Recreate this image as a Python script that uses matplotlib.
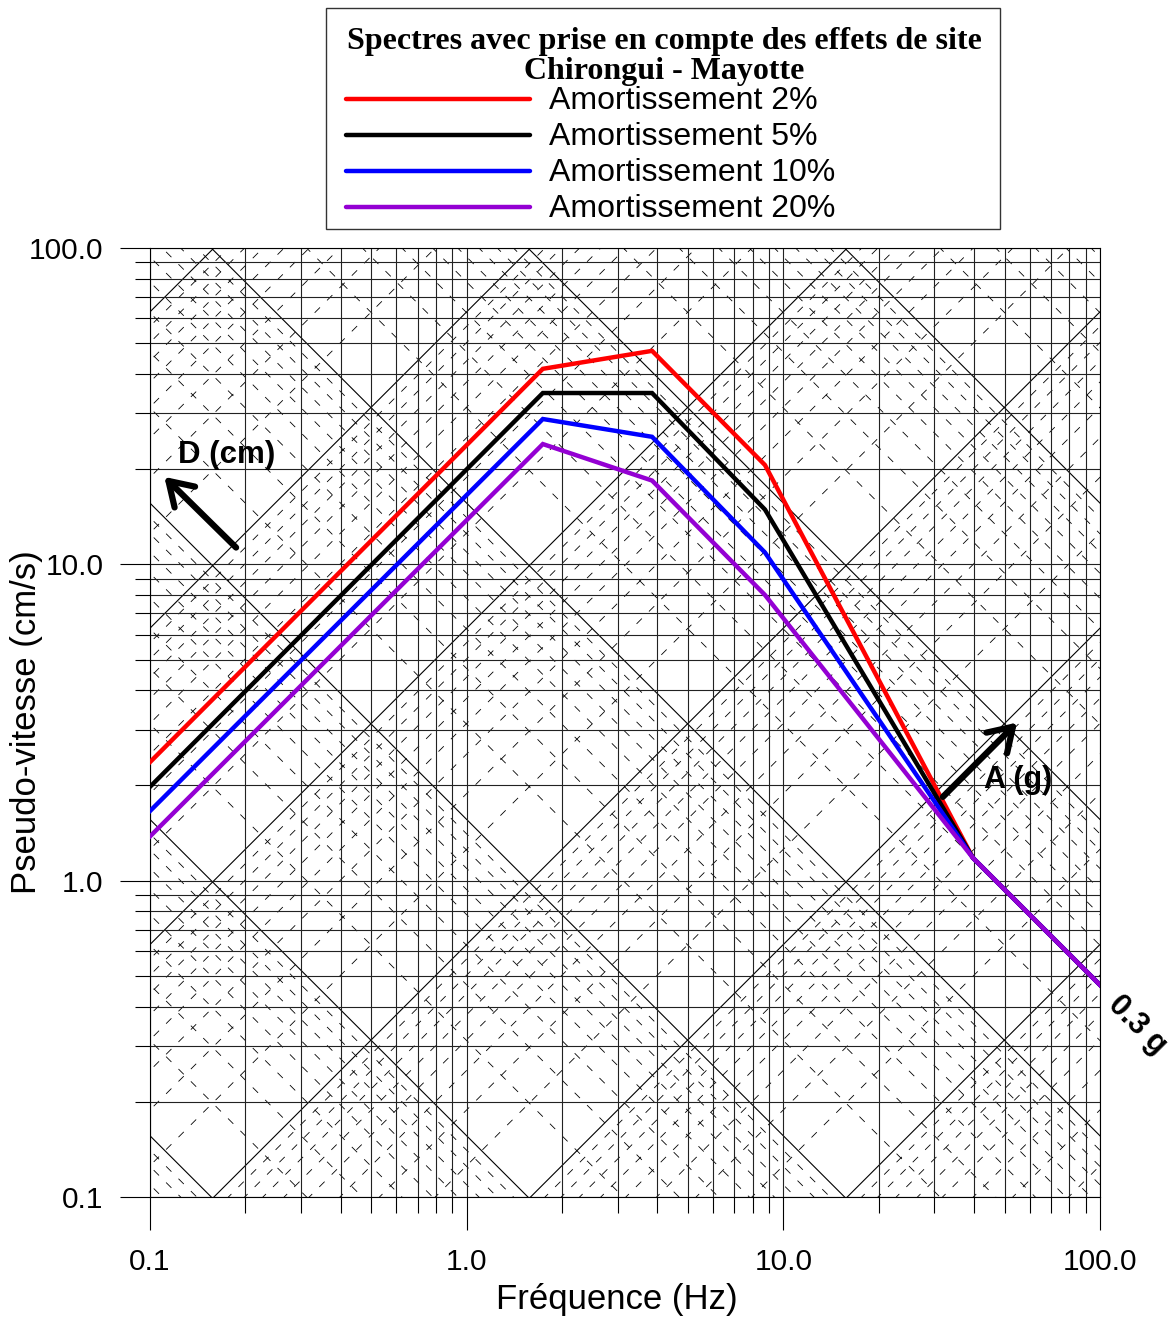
import numpy as np
import matplotlib
matplotlib.use("Agg")
import matplotlib.pyplot as plt
from matplotlib.lines import Line2D
from matplotlib.patches import Rectangle
from matplotlib.ticker import NullFormatter

plt.rcParams['font.family'] = ['Liberation Sans', 'DejaVu Sans']

# spectra (pseudo-velocity, cm/s)
freq = [0.1, 1.74, 3.85, 8.75, 39.7, 100.0]
v_2pc = [2.37, 41.5, 47.3, 20.6, 1.18, 0.468]
v_5pc = [1.98, 34.8, 34.8, 14.9, 1.18, 0.468]
v_10pc = [1.66, 28.8, 25.3, 10.9, 1.18, 0.468]
v_20pc = [1.38, 24.0, 18.4, 8.0, 1.18, 0.468]
series = [v_2pc, v_5pc, v_10pc, v_20pc]
labels = ['Amortissement 2%', 'Amortissement 5%', 'Amortissement 10%', 'Amortissement 20%']
colors = ['#ff0000', '#000000', '#0000ff', '#9400d3']

title_lines = ['Spectres avec prise en compte des effets de site', 'Chirongui - Mayotte']
ticks = [0.1, 1.0, 10.0, 100.0]
tick_labels = ['0.1', '1.0', '10.0', '100.0']

# tripartite grid: D in cm, A in g
d_exps = range(-4, 4)
a_exps = range(-5, 3)
mults = range(1, 10)
g = 981.0

W, H = 1174, 1322
fig = plt.figure(figsize=(W / 100, H / 100), dpi=100)
ax = fig.add_axes([150 / W, (H - 1197) / H, 950 / W, 949 / H])
ax.set_xscale('log')
ax.set_yscale('log')

fg = np.array([0.05, 200.0])
for k in d_exps:
    for m in mults:
        D = m * 10.0 ** k
        v = 2 * np.pi * fg * D
        if m == 1:
            ax.plot(fg, v, color='black', lw=0.8, zorder=1)
        else:
            ln, = ax.plot(fg, v, color='black', lw=0.6, zorder=1)
            ln.set_dashes((9, 12))
for k in a_exps:
    for m in mults:
        A = m * 10.0 ** k
        v = A * g / (2 * np.pi * fg)
        if m == 1:
            ax.plot(fg, v, color='black', lw=0.8, zorder=1)
        else:
            ln, = ax.plot(fg, v, color='black', lw=0.6, zorder=1)
            ln.set_dashes((9, 12))

ax.grid(which='both', color='#222222', lw=0.8, zorder=1)

for vals, c in zip(series, colors):
    ax.plot(freq, vals, color=c, lw=3.2, zorder=3, solid_joinstyle='miter')

ax.set_xlim(0.1, 100)
ax.set_ylim(0.1, 100)
ax.set_xticks(ticks, labels=tick_labels)
ax.set_yticks(ticks, labels=tick_labels)
ax.xaxis.set_minor_formatter(NullFormatter())
ax.yaxis.set_minor_formatter(NullFormatter())
ax.tick_params(axis='x', which='major', length=24, width=0.8, pad=13, labelsize=21.5)
ax.tick_params(axis='x', which='minor', length=11.5, width=0.8)
ax.tick_params(axis='y', which='major', length=21.6, width=0.8, pad=12, labelsize=21.5)
ax.tick_params(axis='y', which='minor', length=10.8, width=0.8)
for s in ax.spines.values():
    s.set_linewidth(0.8)

ax.set_xlabel('Fréquence (Hz)', fontsize=25, va='center')
ax.set_ylabel('Pseudo-vitesse (cm/s)', fontsize=25, va='center')
ax.xaxis.set_label_coords(0.4916, -0.1085)
ax.yaxis.set_label_coords(-0.1295, 0.5)

# direction arrows
ax.annotate('', xy=(0.111, 18.9), xytext=(0.187, 11.3),
            arrowprops=dict(arrowstyle='->,head_length=0.55,head_width=0.35',
                            lw=4.5, color='black', mutation_scale=30, shrinkA=0, shrinkB=0))
ax.text(0.175, 22.2, 'D (cm)', fontsize=22.5, fontweight='bold', ha='center', va='center', zorder=4)
ax.annotate('', xy=(54.7, 3.16), xytext=(31.9, 1.84),
            arrowprops=dict(arrowstyle='->,head_length=0.55,head_width=0.35',
                            lw=4.5, color='black', mutation_scale=30, shrinkA=0, shrinkB=0))
ax.text(55, 2.08, 'A (g)', fontsize=22, fontweight='bold', ha='center', va='center', zorder=4)
ax.text(131, 0.35, '0.3 g', fontsize=22, fontweight='bold', ha='center', va='center',
        rotation=-45, clip_on=False)

# legend box
def fx(px):
    return px / W

def fy(py):
    return 1 - py / H

fig.add_artist(Rectangle((fx(326), fy(229)), fx(1000) - fx(326), fy(8) - fy(229),
                         transform=fig.transFigure, fill=False, edgecolor='#333333', lw=1))
for i, t in enumerate(title_lines):
    fig.text(fx(664), fy(41 + 30 * i), t, fontsize=23, fontweight='bold',
             family='Liberation Serif', ha='center', va='center')
for i, (lab, c) in enumerate(zip(labels, colors)):
    y = fy(99 + 36 * i)
    fig.add_artist(Line2D([fx(346), fx(530)], [y, y], color=c, lw=3.2,
                          transform=fig.transFigure, solid_capstyle='round'))
    fig.text(fx(549), fy(101 + 36 * i), lab, fontsize=23, ha='left', va='center')

fig.savefig('out.png', dpi=100)
